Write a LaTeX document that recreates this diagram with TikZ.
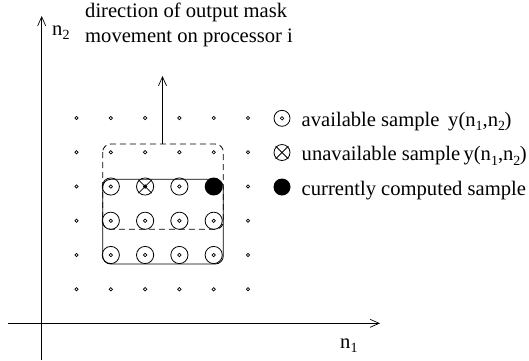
\documentclass[tikz,border=0pt]{standalone}
\usepackage{fontspec}
\setmainfont{Liberation Serif}
\usetikzlibrary{arrows.meta,calc}
\newcommand\lowsub[1]{\raisebox{-0.45ex}{\fontsize{14}{14}\selectfont #1}}
\tikzset{
  txt/.style={inner sep=0pt, anchor=base west, font=\fontsize{20.6}{24}\selectfont},
  axis/.style={line width=0.8pt, -{Straight Barb[length=9pt,width=8pt,line width=0.7pt]}},
  gdot/.style={line width=0.7pt},
  samp/.style={line width=0.8pt},
  maskbox/.style={line width=0.8pt, rounded corners=8pt},
}
\newcommand\ysample{y(n\lowsub{1},n\lowsub{2}\kern-0.5pt)}
\begin{document}
\begin{tikzpicture}[x=1pt,y=-1pt]
\useasboundingbox (0,0) rectangle (529,360);

% axes
\coordinate (ybot) at (41.7,360);
\coordinate (ytop) at (41.7,16);
\coordinate (xleft) at (8,323.3);
\coordinate (xright) at (380,323.3);
\draw[axis] (ybot) -- (ytop);
\draw[axis] (xleft) -- (xright);
\node[txt] (n2) at (52,35) {n\lowsub{2}};
\node[txt] (n1) at (340,348) {n\lowsub{1}};

% caption of the arrow
\node[txt] (cap1) at (85,17) {direction of output mask};
\node[txt] (cap2) at (85,42) {movement on processor i};

% sample grid
\foreach \i in {0,...,5}{
  \foreach \j in {0,...,5}{
    \coordinate (g\i\j) at ({76.5+34.3*\i},{118+34.25*\j});
    \draw[gdot] (g\i\j) circle (1.7pt);
  }
}

% available samples inside the mask
\foreach \i/\j in {1/2,3/2,1/3,2/3,3/3,4/3,1/4,2/4,3/4,4/4}{
  \draw[samp] (g\i\j) circle (8.6pt);
}
% unavailable sample
\draw[samp] (g22) circle (8.6pt);
\draw[samp] ($(g22)+(-6.6,-6.6)$) -- ($(g22)+(6.6,6.6)$);
\draw[samp] ($(g22)+(-6.6,6.6)$) -- ($(g22)+(6.6,-6.6)$);
\fill (g22) circle (1.8pt);
% currently computed sample
\fill (g42) circle (9pt);

% mask outlines
\draw[maskbox, dash pattern=on 6pt off 4pt] (102.7,144) rectangle (223.3,229.3);
\draw[maskbox] (102.7,179.3) rectangle (223.3,264);

% direction of movement
\coordinate (masktop) at (162.5,144);
\coordinate (movetip) at (162.5,76);
\draw[axis] (masktop) -- (movetip);

% legend
\coordinate (l1) at (282,118.3);
\coordinate (l2) at (282,152.5);
\coordinate (l3) at (282,187);
\draw[samp] (l1) circle (8pt);
\draw[gdot] (l1) circle (1.7pt);
\draw[samp] (l2) circle (8pt);
\draw[samp] ($(l2)+(-6.3,-6.3)$) -- ($(l2)+(6.3,6.3)$);
\draw[samp] ($(l2)+(-6.3,6.3)$) -- ($(l2)+(6.3,-6.3)$);
\fill (l3) circle (8.5pt);
\node[txt] (t1) at (301.5,126.5) {available sample};
\node[txt] (t2) at (301.5,160.8) {unavailable sample};
\node[txt] (t3) at (301.5,195.3) {currently computed sample};
\node[txt] (y1) at (448,126.5) {\ysample};
\node[txt] (y2) at ([xshift=3pt]t2.base east) {\ysample};
\end{tikzpicture}
\end{document}
